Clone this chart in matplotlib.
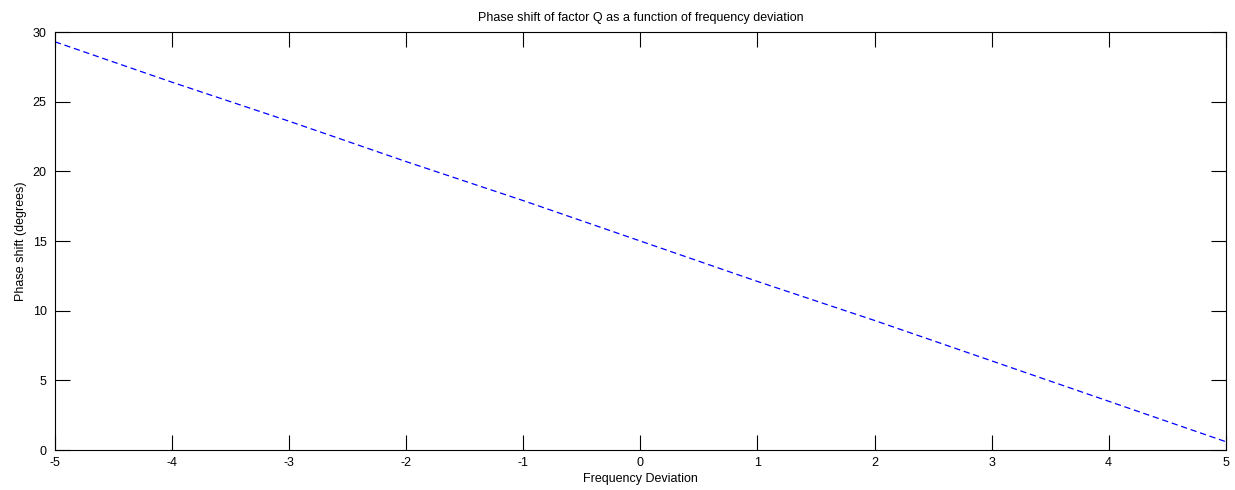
import matplotlib
matplotlib.use('Agg')
import matplotlib.pyplot as plt
import numpy as np

# frequency deviation vs phase shift
freq_dev = [-5, -4, -3, -2, -1, 0, 1, 2, 3, 4, 5]
phase_deg = [29.3, 26.4, 23.6, 20.7, 17.9, 15.0, 12.1, 9.3, 6.4, 3.5, 0.6]

plt.rcParams['font.family'] = ['Liberation Sans', 'DejaVu Sans']
plt.rcParams['font.size'] = 8
plt.rcParams['axes.unicode_minus'] = False

fig = plt.figure(figsize=(12.35, 4.9), dpi=100)
ax = fig.add_axes([0.0445, 0.0816, 0.948, 0.853])
ax.plot(freq_dev, phase_deg, '--', color='#0000ff', linewidth=0.9, dashes=(5, 3))
ax.set_xlim(-5, 5)
ax.set_ylim(0, 30)
ax.set_xticks(np.arange(-5, 6, 1))
ax.set_yticks(np.arange(0, 31, 5))
ax.tick_params(direction='in', top=True, right=True, length=11, width=0.8,
               labelsize=9)
ax.tick_params(axis='x', pad=5)
ax.tick_params(axis='y', pad=6)
for s in ax.spines.values():
    s.set_linewidth(0.8)
ax.set_title("Phase shift of factor Q as a function of frequency deviation", fontsize=9, pad=8)
ax.set_xlabel("Frequency Deviation", fontsize=9, labelpad=3)
ax.set_ylabel("Phase shift (degrees)", fontsize=9, labelpad=4)
plt.savefig('out.png')
